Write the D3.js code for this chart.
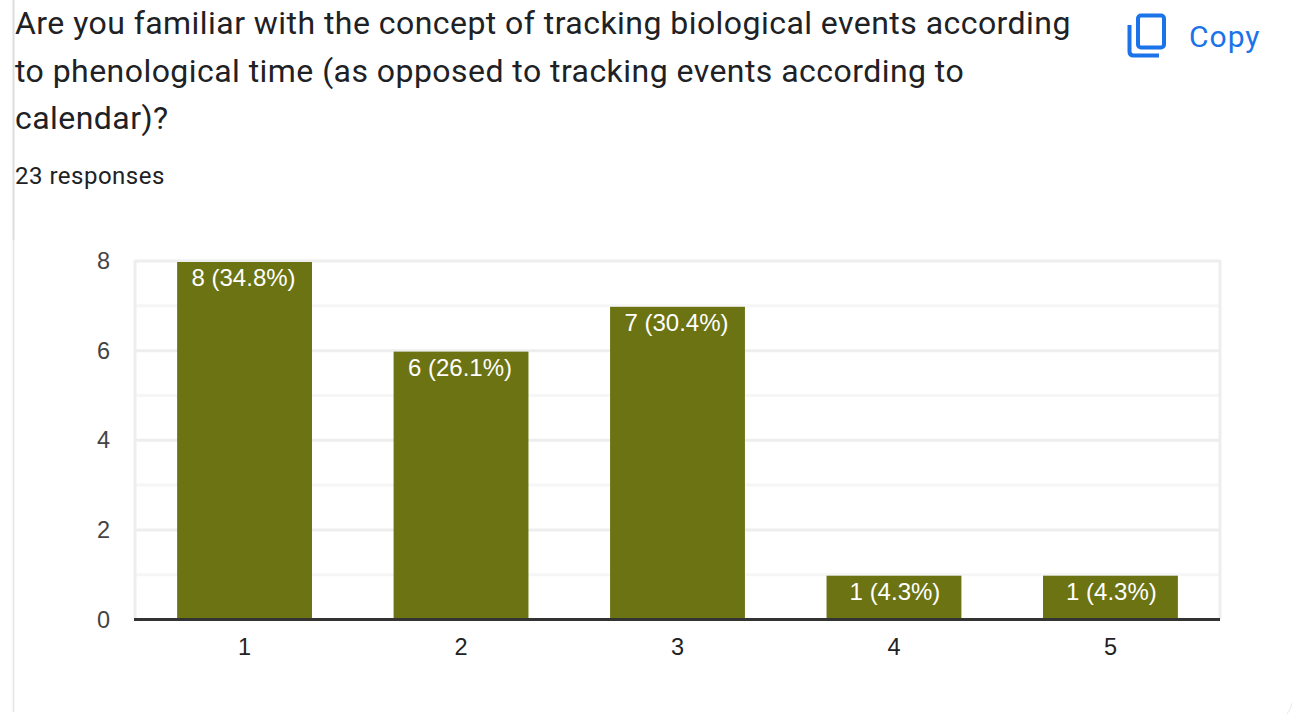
<!DOCTYPE html>
<html lang="en">
<head>
<meta name="viewport" content="width=device-width, initial-scale=1">
<title>Phenological time responses</title>
<style>
  html, body { margin:0; padding:0; background:white; overflow:hidden; }
  .title { font:32px Roboto; fill:#202124; letter-spacing:0.45px; }
  .sub { font:24px Roboto; fill:#202124; letter-spacing:0.5px; }
  .copy { font:400 30px Roboto; fill:#1a73e8; letter-spacing:1px; }
  .tick-y { font:23.5px "Liberation Sans"; fill:#444; }
  .tick-x { font:23.5px "Liberation Sans"; fill:#222; }
  .bar-label { font:24px "Liberation Sans"; fill:white; }
</style>
</head>
<body>
<svg class="chart"></svg>
<script src="https://cdnjs.cloudflare.com/ajax/libs/d3/7.8.5/d3.min.js"></script>
<script>
var titleLines = [
  "Are you familiar with the concept of tracking biological events according",
  "to phenological time (as opposed to tracking events according to",
  "calendar)?"
];
var subtitle = "23 responses";
var categories = ["1", "2", "3", "4", "5"];
var counts = [8, 6, 7, 1, 1];
var labels = ["8 (34.8%)", "6 (26.1%)", "7 (30.4%)", "1 (4.3%)", "1 (4.3%)"];
var yTicks = [0, 2, 4, 6, 8];
var yGrid = [1, 2, 3, 4, 5, 6, 7, 8];

var svg = d3.select(".chart").attr("width", 1292).attr("height", 717).style("display", "block");

// page border on the left, heavier next to the question text
svg.append("line").attr("x1", 13.5).attr("x2", 13.5).attr("y1", 0).attr("y2", 240)
  .attr("stroke", "#dadce0").attr("stroke-width", 2);
svg.append("line").attr("x1", 13.5).attr("x2", 13.5).attr("y1", 240).attr("y2", 712)
  .attr("stroke", "#e4e4e4").attr("stroke-width", 1.5);
// faint rounded card corner, bottom right
svg.append("path").attr("d", "M1292 703q-1 6 -5 11")
  .attr("fill", "none").attr("stroke", "#e8e8e8").attr("stroke-width", 1);

// question text
svg.selectAll(".title").data(titleLines).enter().append("text")
  .attr("class", "title")
  .attr("x", 15)
  .attr("y", function(d, i) { return 34 + i * 47.5; })
  .text(function(d) { return d; });
svg.append("text").attr("class", "sub").attr("x", 15).attr("y", 184).text(subtitle);

// copy button
svg.append("path")
  .attr("d", "M1129.5 25v26.5q0 4 4 4h25.5")
  .attr("fill", "none").attr("stroke", "#1a73e8").attr("stroke-width", 4);
svg.append("rect").attr("x", 1138).attr("y", 15.5).attr("width", 26).attr("height", 32).attr("rx", 3)
  .attr("fill", "none").attr("stroke", "#1a73e8").attr("stroke-width", 4);
svg.append("text").attr("class", "copy").attr("x", 1189).attr("y", 47).text("Copy");

// scales
var x = d3.scaleBand().domain(categories).range([136, 1219]).paddingInner(0.377).paddingOuter(0.19);
var y = d3.scaleLinear().domain([0, 8]).range([619.5, 261]);

// grid
svg.selectAll(".grid").data(yGrid).enter().append("line")
  .attr("x1", 135).attr("x2", 1220)
  .attr("y1", function(d) { return y(d); }).attr("y2", function(d) { return y(d); })
  .attr("stroke", function(d) { return d % 2 == 0 ? "#eeeeee" : "#f6f6f6"; })
  .attr("stroke-width", 3);
svg.append("line").attr("x1", 135).attr("x2", 135).attr("y1", 260).attr("y2", 619)
  .attr("stroke", "#eeeeee").attr("stroke-width", 3);
svg.append("line").attr("x1", 1220).attr("x2", 1220).attr("y1", 260).attr("y2", 619)
  .attr("stroke", "#eeeeee").attr("stroke-width", 3);

// bars
svg.selectAll(".bar").data(counts).enter().append("rect")
  .attr("class", "bar")
  .attr("x", function(d, i) { return x(categories[i]); })
  .attr("width", x.bandwidth())
  .attr("y", function(d) { return y(d) + 1; })
  .attr("height", function(d) { return y(0) - y(d) - 1; })
  .attr("fill", "#6b7313");

svg.selectAll(".bar-label").data(counts).enter().append("text")
  .attr("class", "bar-label")
  .attr("text-anchor", "middle")
  .attr("x", function(d, i) { return x(categories[i]) + x.bandwidth() / 2 + (d == 1 ? 1 : -1); })
  .attr("y", function(d) { return y(d) + 25; })
  .text(function(d, i) { return labels[i]; });

// baseline
svg.append("line").attr("x1", 134).attr("x2", 1220).attr("y1", 619.5).attr("y2", 619.5)
  .attr("stroke", "#333").attr("stroke-width", 3);

// axis labels
svg.selectAll(".tick-y").data(yTicks).enter().append("text")
  .attr("class", "tick-y")
  .attr("text-anchor", "end")
  .attr("x", 110)
  .attr("y", function(d) { return y(d) + 8; })
  .text(function(d) { return d; });
svg.selectAll(".tick-x").data(categories).enter().append("text")
  .attr("class", "tick-x")
  .attr("text-anchor", "middle")
  .attr("x", function(d) { return x(d) + x.bandwidth() / 2; })
  .attr("y", 655)
  .text(function(d) { return d; });
</script>
</body>
</html>
